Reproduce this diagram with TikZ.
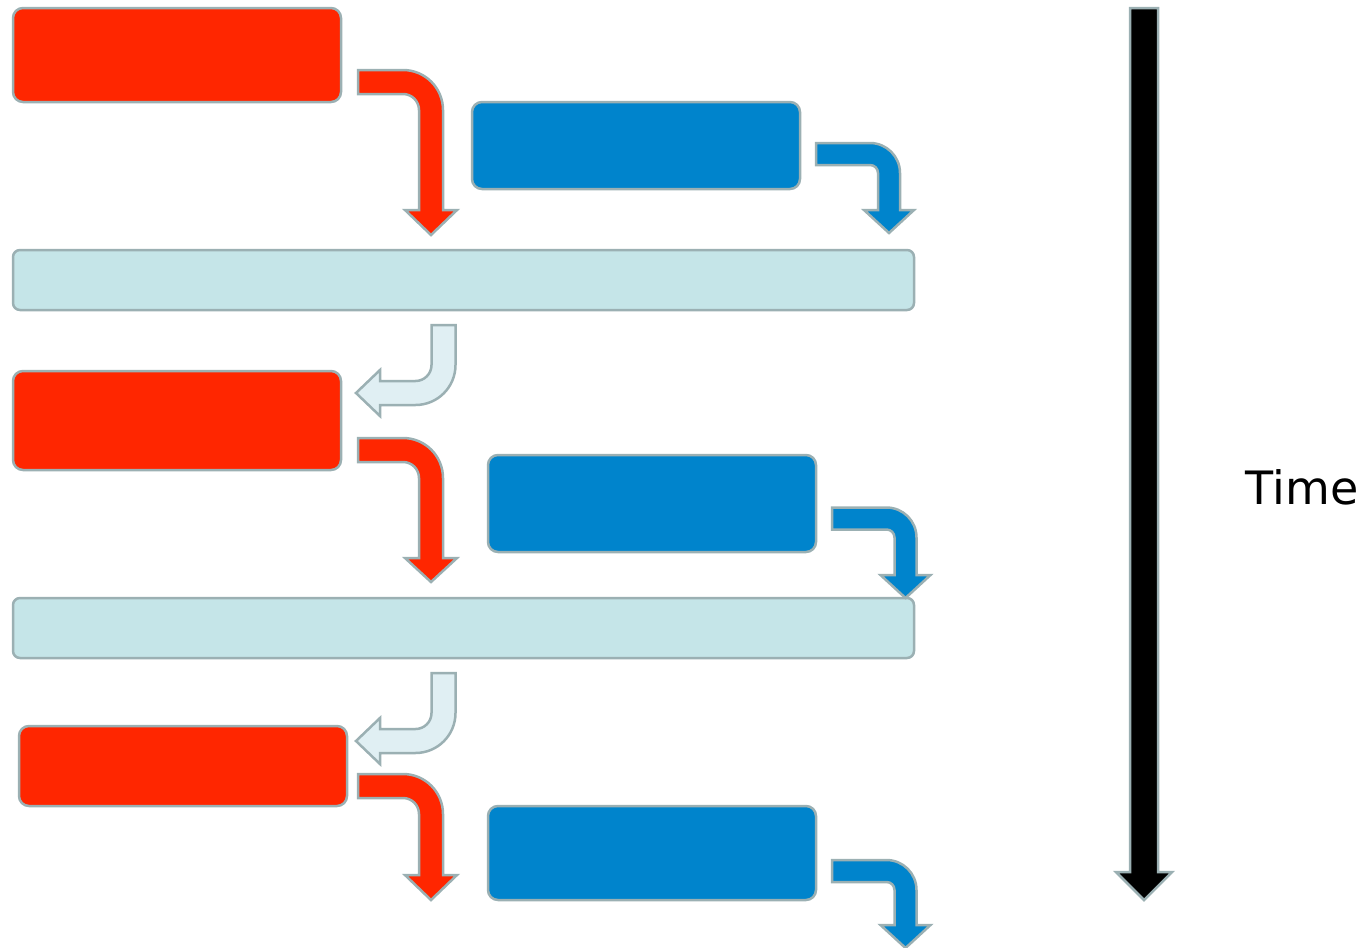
\documentclass[tikz,border=0pt]{standalone}
\usepackage{fontspec}
\newfontfamily\timefont{DejaVu Sans}
\definecolor{redfill}{HTML}{FF2600}
\definecolor{bluefill}{HTML}{0084CC}
\definecolor{barfill}{HTML}{C5E5E8}
\definecolor{lightfill}{HTML}{E0EFF3}
\definecolor{edge}{HTML}{9BB0B3}
\tikzset{
  boxbase/.style={draw=edge, line width=2.5pt, rounded corners=10pt, inner sep=0pt},
  redbox/.style={boxbase, fill=redfill},
  bluebox/.style={boxbase, fill=bluefill},
  barbox/.style={boxbase, fill=barfill, rounded corners=7pt},
  bentarrow/.style={draw=edge, line width=2.5pt, line join=miter},
}
% right-then-down arrow: #1 style, #2 start x, #3 centre y, #4 centre x, #5 half width, #6 radius, #7 head base y, #8 tip y, #9 head half width
\newcommand\rdarrow[9]{%
  \pgfmathsetmacro\ro{#6+#5}\pgfmathsetmacro\ri{#6-#5}%
  \pgfmathsetmacro\k{0.5523}%
  \path[#1] (#2,{#3-#5}) -- ({#4-#6},{#3-#5})
    .. controls ({#4-#6+\k*\ro},{#3-#5}) and ({#4+#5},{#3+#6-\k*\ro}) .. ({#4+#5},{#3+#6})
    -- ({#4+#5},#7) -- ({#4+#9},#7) -- (#4,#8) -- ({#4-#9},#7) -- ({#4-#5},#7)
    -- ({#4-#5},{#3+#6})
    .. controls ({#4-#5},{#3+#6-\k*\ri}) and ({#4-#6+\k*\ri},{#3+#5}) .. ({#4-#6},{#3+#5})
    -- (#2,{#3+#5}) -- cycle;}
% down-then-left arrow: #1 style, #2 top y, #3 centre x, #4 centre y, #5 half width, #6 radius, #7 head base x, #8 tip x, #9 head half width
\newcommand\dlarrow[9]{%
  \pgfmathsetmacro\ro{#6+#5}\pgfmathsetmacro\ri{#6-#5}%
  \pgfmathsetmacro\k{0.5523}%
  \path[#1] ({#3-#5},#2) -- ({#3+#5},#2) -- ({#3+#5},{#4-#6})
    .. controls ({#3+#5},{#4-#6+\k*\ro}) and ({#3-#6+\k*\ro},{#4+#5}) .. ({#3-#6},{#4+#5})
    -- (#7,{#4+#5}) -- (#7,{#4+#9}) -- (#8,#4) -- (#7,{#4-#9}) -- (#7,{#4-#5})
    -- ({#3-#6},{#4-#5})
    .. controls ({#3-#6+\k*\ri},{#4-#5}) and ({#3-#5},{#4-#6+\k*\ri}) .. ({#3-#5},{#4-#6})
    -- cycle;}
\begin{document}
\begin{tikzpicture}[x=1pt,y=-1pt]
\useasboundingbox (0,0) rectangle (1369,948);
% boxes
\node[redbox, minimum width=328pt, minimum height=94pt] (r1) at (177,55) {};
\node[bluebox, minimum width=328pt, minimum height=87pt] (b1) at (636,145.5) {};
\node[barbox, minimum width=901pt, minimum height=60pt] (bar1) at (463.5,280) {};
\node[redbox, minimum width=328pt, minimum height=99pt] (r2) at (177,420.5) {};
\node[bluebox, minimum width=328pt, minimum height=97pt] (b2) at (652,503.5) {};
\node[barbox, minimum width=901pt, minimum height=60pt] (bar2) at (463.5,628) {};
\node[redbox, minimum width=328pt, minimum height=80pt] (r3) at (183,766) {};
\node[bluebox, minimum width=328pt, minimum height=94pt] (b3) at (652,853) {};
% bent arrows
\rdarrow{bentarrow, fill=redfill}{358}{82}{431}{12}{28}{210}{235}{26}
\rdarrow{bentarrow, fill=bluefill}{816}{154}{889}{11}{19}{210}{233}{25}
\dlarrow{bentarrow, fill=lightfill}{325}{443.5}{393}{12}{28}{380}{356}{23}
\rdarrow{bentarrow, fill=redfill}{358}{450}{431}{12}{28}{558}{582}{26}
\rdarrow{bentarrow, fill=bluefill}{832}{518.5}{905.5}{11}{19}{575}{598}{25}
\dlarrow{bentarrow, fill=lightfill}{673}{443.5}{741}{12}{28}{380}{356}{23}
\rdarrow{bentarrow, fill=redfill}{358}{786}{431}{12}{28}{875}{900}{26}
\rdarrow{bentarrow, fill=bluefill}{832}{871}{905.5}{11}{19}{925}{948}{25}
% time arrow
\path[bentarrow, fill=black] (1130,8) -- (1158,8) -- (1158,872) -- (1172,872) -- (1144,900)
  -- (1116,872) -- (1130,872) -- cycle;
\node[font=\timefont\fontsize{46}{50}\selectfont, anchor=base] (time) at (1302,504) {Time};
\end{tikzpicture}
\end{document}
